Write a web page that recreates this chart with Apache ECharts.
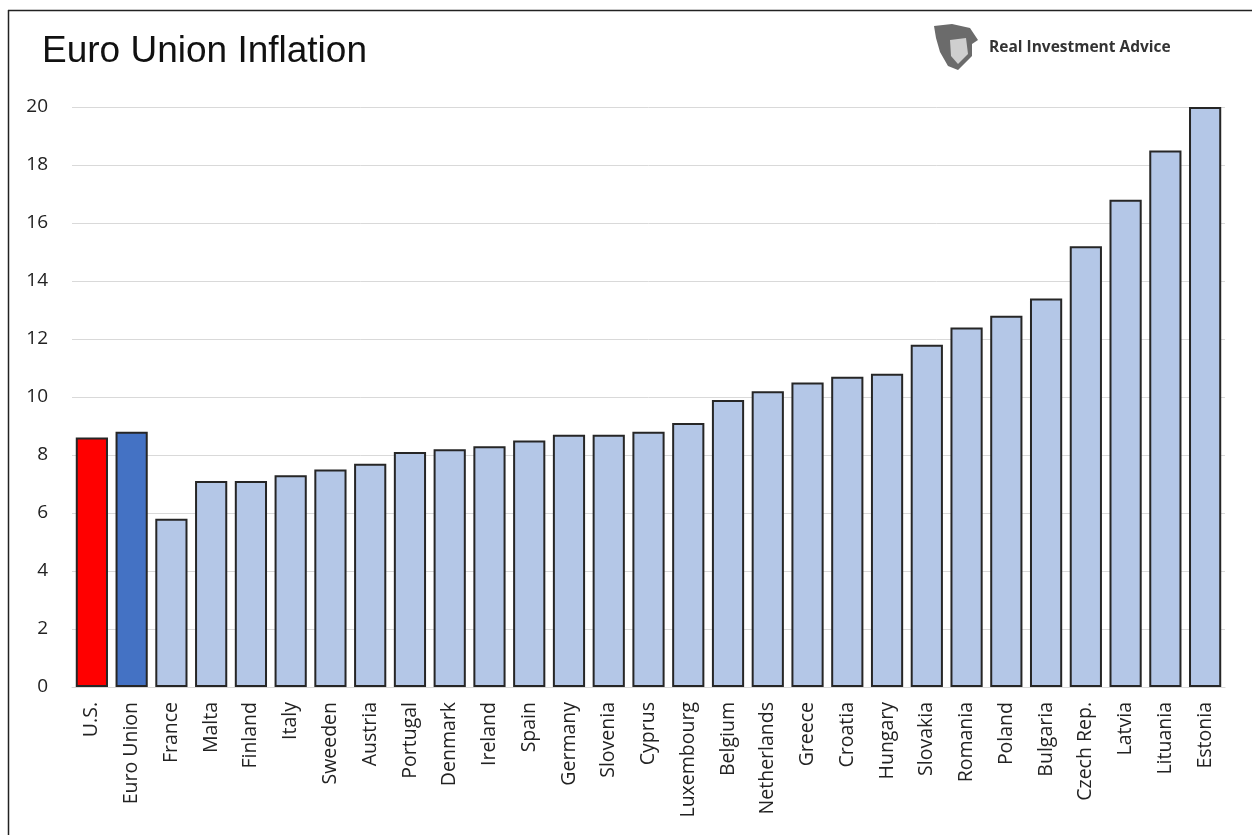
<!DOCTYPE html>
<html>
<head>
<meta charset="utf-8">
<title>Euro Union Inflation</title>
<script src="https://cdn.jsdelivr.net/npm/echarts@6/dist/echarts.min.js"></script>
<style>
  html, body { margin:0; padding:0; background:#fff; }
  #chart { width:1252px; height:835px; }
</style>
</head>
<body>
<div id="chart"></div>
<script>
// data
var countries = ['U.S.', 'Euro Union', 'France', 'Malta', 'Finland', 'Italy', 'Sweeden', 'Austria',
    'Portugal', 'Denmark', 'Ireland', 'Spain', 'Germany', 'Slovenia', 'Cyprus', 'Luxembourg',
    'Belgium', 'Netherlands', 'Greece', 'Croatia', 'Hungary', 'Slovakia', 'Romania', 'Poland',
    'Bulgaria', 'Czech Rep.', 'Latvia', 'Lituania', 'Estonia'];
var inflation = [8.6, 8.8, 5.8, 7.1, 7.1, 7.3, 7.5, 7.7,
    8.1, 8.2, 8.3, 8.5, 8.7, 8.7, 8.8, 9.1,
    9.9, 10.2, 10.5, 10.7, 10.8, 11.8, 12.4, 12.8,
    13.4, 15.2, 16.8, 18.5, 20];
var yTicks = [0, 2, 4, 6, 8, 10, 12, 14, 16, 18, 20];

var chart = echarts.init(document.getElementById('chart'));

var barData = inflation.map(function (v, i) {
    var c = '#B4C7E7';
    if (i == 0) c = '#FF0000';
    if (i == 1) c = '#4472C4';
    return { value: v, itemStyle: { color: c } };
});

var option = {
    backgroundColor: '#fff',
    animation: false,
    title: {
        text: 'Euro Union Inflation',
        left: 37, top: 28,
        textStyle: { fontFamily: 'Liberation Sans', fontSize: 37, fontWeight: 'normal', color: '#111' }
    },
    grid: { left: 72, right: 27, top: 107, bottom: 148 },
    xAxis: {
        type: 'category',
        data: countries,
        axisLine: { show: true, lineStyle: { color: '#d9d9d9', width: 1 } },
        axisTick: { show: false },
        axisLabel: {
            rotate: 90, margin: 15, interval: 0,
            fontFamily: 'Open Sans', fontSize: 19.5, color: '#222'
        }
    },
    yAxis: {
        type: 'value',
        min: yTicks[0], max: yTicks[yTicks.length - 1], interval: 2,
        axisLine: { show: false },
        axisTick: { show: false },
        splitLine: { lineStyle: { color: '#d9d9d9', width: 1 } },
        axisLabel: { margin: 24, fontFamily: 'Open Sans', fontSize: 19, color: '#222' }
    },
    series: [{
        type: 'bar',
        data: barData,
        barCategoryGap: '19%',
        itemStyle: { borderColor: '#262626', borderWidth: 2 }
    }],
    graphic: [
        // page frame, left and top edges only
        { type: 'line', shape: { x1: 8.5, y1: 10, x2: 8.5, y2: 835 }, style: { stroke: '#222', lineWidth: 1.5 } },
        { type: 'line', shape: { x1: 8, y1: 10.5, x2: 1252, y2: 10.5 }, style: { stroke: '#222', lineWidth: 1.5 } },
        // rough eagle/shield badge
        {
            type: 'polygon',
            shape: { points: [[934, 26], [952, 24], [970, 28], [978, 40], [972, 44], [972, 56], [958, 70], [948, 66], [940, 52], [936, 38]] },
            style: { fill: '#6b6b6b' }
        },
        {
            type: 'polygon',
            shape: { points: [[950, 40], [966, 38], [968, 54], [958, 64], [951, 56]] },
            style: { fill: '#cfcfcf' }
        },
        {
            type: 'text', left: 989, top: 40,
            style: { text: 'Real Investment Advice', font: 'bold 15.5px "Open Sans"', fill: '#333' }
        }
    ]
};
chart.setOption(option);
</script>
</body>
</html>
